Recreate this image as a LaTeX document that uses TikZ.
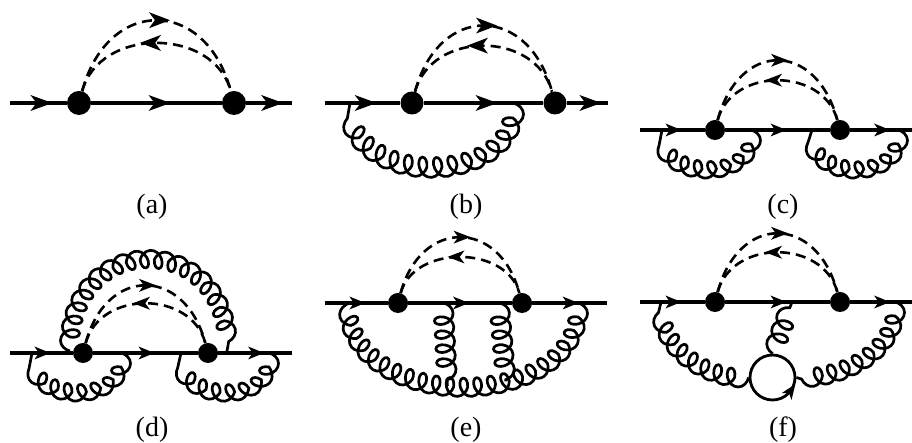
\documentclass[tikz,border=0pt]{standalone}
\usepackage{fontspec}
\setmainfont{Liberation Serif}
\usetikzlibrary{decorations.pathmorphing,decorations.markings}

\newcommand\fwdhead[3]{\fill[xshift=#3] (-0.5*#1,-0.5*#2) -- (0.5*#1,0pt) -- (-0.5*#1,0.5*#2) -- (-0.22*#1,0pt) -- cycle;}
\newcommand\bwdhead[3]{\fill[xshift=#3] (0.5*#1,-0.5*#2) -- (-0.5*#1,0pt) -- (0.5*#1,0.5*#2) -- (0.22*#1,0pt) -- cycle;}

\tikzset{
  fline/.style={line width=3.1pt},
  ferbig/.style={fline, postaction={decorate},
    decoration={markings, mark=at position 0.5 with {\fwdhead{22pt}{16pt}{3pt}}}},
  fersmall/.style={fline, postaction={decorate},
    decoration={markings, mark=at position 0.5 with {\fwdhead{16pt}{13pt}{1pt}}}},
  scal/.style={line width=2.6pt, dash pattern=on 10pt off 6pt},
  scoutbig/.style={scal, postaction={decorate},
    decoration={markings, mark=at position 0.5 with {\fwdhead{21pt}{16pt}{3pt}}}},
  scinbig/.style={scal, postaction={decorate},
    decoration={markings, mark=at position 0.5 with {\bwdhead{21pt}{16pt}{-6pt}}}},
  scoutsmall/.style={scal, postaction={decorate},
    decoration={markings, mark=at position 0.5 with {\fwdhead{17pt}{13pt}{2pt}}}},
  scinsmall/.style={scal, postaction={decorate},
    decoration={markings, mark=at position 0.5 with {\bwdhead{17pt}{13pt}{-4pt}}}},
  gluonA/.style={line width=2.7pt, decorate,
    decoration={coil, amplitude=10.5pt, segment length=15pt, aspect=0.71}},
  gluonB/.style={line width=2.7pt, decorate,
    decoration={coil, amplitude=9.5pt, segment length=14pt, aspect=0.74}},
  vtxA/.style={circle, fill, inner sep=0pt, minimum size=24pt},
  vtxB/.style={circle, fill, inner sep=0pt, minimum size=20pt},
  lab/.style={font=\fontsize{28}{30}\selectfont, inner sep=0pt},
}

\begin{document}
\begin{tikzpicture}[x=1pt,y=1pt]
\useasboundingbox (0,0) rectangle (912,443);

% ---------------- (a)
\coordinate (a0) at (10,340);
\node[vtxA] (a1) at (79,340) {};
\node[vtxA] (a2) at (234,340) {};
\coordinate (a3) at (292,340);
\draw[ferbig] (a0) -- (a1);
\draw[ferbig] (a1) -- (a2);
\draw[ferbig] (a2) -- (a3);
\draw[scoutbig] (a1) to[out=75,in=105,looseness=1.69] (a2);
\draw[scinbig] (a1) to[out=75,in=105,looseness=1.15] (a2);
\node[lab] (la) at (152,236) {(a)};

% ---------------- (b)
\coordinate (b0) at (325,340);
\node[vtxA, minimum size=23pt] (b1) at (412,340) {};
\node[vtxA, minimum size=23pt] (b2) at (555,340) {};
\coordinate (b3) at (608,340);
\coordinate (gb1) at (350,340);
\coordinate (gb2) at (513,340);
\draw[ferbig] (b0) -- (b1);
\draw[ferbig] (b1) -- (b2);
\draw[ferbig] (b2) -- (b3);
\draw[scoutbig] (b1) to[out=75,in=105,looseness=1.71] (b2);
\draw[scinbig] (b1) to[out=75,in=105,looseness=1.19] (b2);
\draw[gluonA] (gb2) to[out=-90,in=-90,looseness=1.33] (gb1);
\node[lab] (lb) at (466,236) {(b)};

% ---------------- (c)
\coordinate (c0) at (640,313);
\node[vtxB] (c1) at (715,313) {};
\node[vtxB] (c2) at (840,313) {};
\coordinate (c3) at (912,313);
\coordinate (gc1) at (662,313);
\coordinate (gc2) at (751,313);
\coordinate (gc3) at (812,313);
\coordinate (gc4) at (898,313);
\draw[fersmall] (c0) -- (c1);
\draw[fersmall] (c1) -- (c2);
\draw[fersmall] (c2) -- (c3);
\draw[scoutsmall] (c1) to[out=75,in=105,looseness=1.77] (c2);
\draw[scinsmall] (c1) to[out=75,in=105,looseness=1.18] (c2);
\draw[gluonB] (gc2) to[out=-90,in=-90,looseness=1.45] (gc1);
\draw[gluonB] (gc4) to[out=-90,in=-90,looseness=1.5] (gc3);
\node[lab] (lc) at (783,236) {(c)};

% ---------------- (d)
\coordinate (d0) at (10,90);
\node[vtxB] (d1) at (83,90) {};
\node[vtxB] (d2) at (208,90) {};
\coordinate (d3) at (292,90);
\coordinate (gd1) at (32,90);
\coordinate (gd2) at (121,90);
\coordinate (gd3) at (181,90);
\coordinate (gd4) at (269,90);
\coordinate (gd5) at (70,92);
\coordinate (gd6) at (227,92);
\draw[fersmall] (d0) -- (d1);
\draw[fersmall] (d1) -- (d2);
\draw[fersmall] (d2) -- (d3);
\draw[scoutsmall] (d1) to[out=75,in=105,looseness=1.71] (d2);
\draw[scinsmall] (d1) to[out=75,in=105,looseness=1.18] (d2);
\draw[gluonB] (gd2) to[out=-90,in=-90,looseness=1.45] (gd1);
\draw[gluonB] (gd4) to[out=-90,in=-90,looseness=1.47] (gd3);
\draw[gluonB] (gd5) to[out=90,in=90,looseness=1.97] (gd6);
\node[lab] (ld) at (152,13) {(d)};

% ---------------- (e)
\coordinate (e0) at (325,140);
\node[vtxB] (e1) at (398,140) {};
\node[vtxB] (e2) at (522,140) {};
\coordinate (e3) at (607,140);
\coordinate (ge1) at (349,140);
\coordinate (ge2) at (578,140);
\coordinate (ev1) at (443,140);
\coordinate (ev2) at (499,140);
\draw[fersmall] (e0) -- (e1);
\draw[fersmall] (e1) -- (e2);
\draw[fersmall] (e2) -- (e3);
\draw[scoutsmall] (e1) to[out=75,in=105,looseness=1.67] (e2);
\draw[scinsmall] (e1) to[out=75,in=105,looseness=1.08] (e2);
\draw[gluonB] (ge2) to[out=-90,in=-90,looseness=1.25]
   coordinate[pos=0.374] (eb2) coordinate[pos=0.547] (eb1) (ge1);
\draw[gluonB] (ev1) -- (eb1);
\draw[gluonB] (ev2) -- (eb2);
\node[lab] (le) at (466,13) {(e)};

% ---------------- (f)
\coordinate (f0) at (640,141);
\node[vtxB] (f1) at (715,141) {};
\node[vtxB] (f2) at (840,141) {};
\coordinate (f3) at (912,141);
\coordinate (fl) at (661,141);
\coordinate (fr) at (895,141);
\coordinate (fv) at (792,141);
\node[draw, circle, line width=2.8pt, minimum size=45pt, inner sep=0pt] (floop) at (772.5,65.5) {};
\draw[fersmall] (f0) -- (f1);
\draw[fersmall] (f1) -- (f2);
\draw[fersmall] (f2) -- (f3);
\draw[scoutsmall] (f1) to[out=75,in=105,looseness=1.74] (f2);
\draw[scinsmall] (f1) to[out=75,in=105,looseness=1.18] (f2);
\draw[gluonB] (floop.west) to[out=180,in=-90] (fl);
\draw[gluonB] (fr) to[out=-90,in=0] (floop.east);
\draw[gluonB] (floop.north) -- (fv);
\path[postaction={decorate},
  decoration={markings, mark=at position 0.5 with {\fwdhead{15pt}{12pt}{0pt}}}]
  ([shift={(-50:22.5)}]floop.center) arc[start angle=-50, end angle=-20, radius=22.5];
\node[lab] (lf) at (783,13) {(f)};
\end{tikzpicture}
\end{document}
